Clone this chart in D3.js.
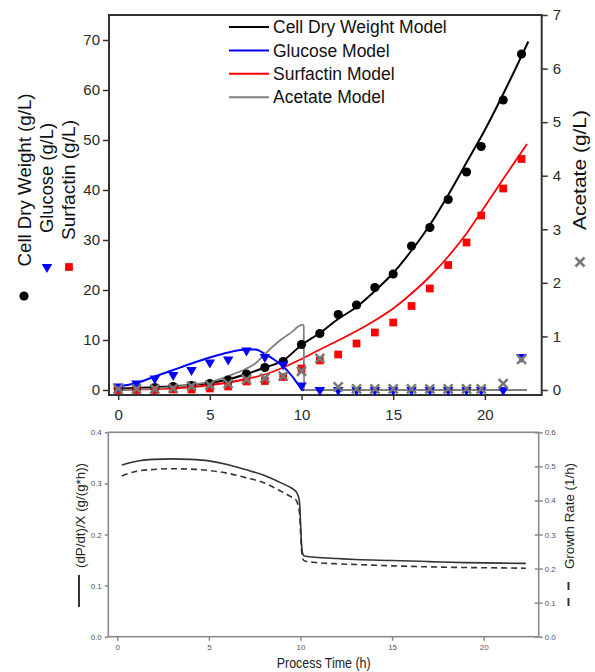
<!DOCTYPE html>
<html>
<head>
<meta charset="utf-8">
<script src="https://cdn.jsdelivr.net/npm/d3@7"></script>
<style>
  body { margin: 0; background: #fff; }
  svg { display: block; font-family: "Liberation Sans", Arial, sans-serif; }
</style>
</head>
<body>
<svg id="chart" width="595" height="672"></svg>
<script>
// ---- Measured fermentation data (h, g/L) ----
const hours     = [0,1,2,3,4,5,6,7,8,9,10,11,12,13,14,15,16,17,18,19,19.8,21,22];
const cdw       = [0.3,0.4,0.5,0.7,0.9,1.3,2.0,3.2,4.5,5.7,9.1,11.3,15.1,17.0,20.5,23.2,28.8,32.5,38.1,43.6,48.7,58.0,67.2];
const glucose   = [0.7,1.3,2.3,3.0,4.0,5.5,6.1,7.9,6.6,5.1,0.9,0,0,0,0,0,0,0,0,0,0,0,6.6];
const surfactin = [0,0,0,0.1,0.1,0.3,0.7,1.7,1.8,2.6,4.3,5.9,7.1,9.3,11.5,13.5,16.8,20.3,25.0,29.5,34.9,40.3,46.2];
const acetate   = [0.02,0.02,0.02,0.03,0.07,0.09,0.12,0.2,0.22,0.26,0.35,0.59,0.06,0.02,0.02,0.02,0.02,0.02,0.02,0.02,0.02,0.12,0.57];

// ---- Model predictions ----
const cdwModelT = [0,1,2,3,4,5,6,7,8,9,10,11,12,13,14,15,16,17,18,19,20,21,22,22.37];
const cdwModel  = [0.3,0.4,0.55,0.75,1.0,1.4,2.1,3.2,4.5,5.9,9.0,11.4,14.2,16.6,19.8,23.4,27.9,33.0,39.0,45.5,52.0,59.2,66.8,69.7];
const glucoseModelT = [0,1,2,3,4,5,6,7,7.5,8,8.5,9,9.5,9.8,10.05,10.15,22.3];
const glucoseModel  = [0.7,1.4,2.7,4.0,5.3,6.5,7.5,8.1,8.1,7.2,6.1,4.7,2.7,1.2,0.1,0,0];
const surfactinModelT = [0,1,2,3,4,5,6,7,8,9,10,11,12,13,14,15,16,17,18,19,20,21,22,22.3];
const surfactinModel  = [0,0.1,0.2,0.35,0.6,1.0,1.5,2.2,3.1,4.5,6.2,8.1,9.9,11.8,13.9,16.3,19.3,22.7,26.7,31.3,36.7,42.2,47.6,49.2];
const acetateModelT = [0,1,2,3,4,5,6,7,7.5,8,8.5,9,9.5,9.8,10.05,10.12,10.14,22.3];
const acetateModel  = [0,0.01,0.03,0.06,0.1,0.15,0.26,0.4,0.5,0.67,0.83,0.97,1.09,1.18,1.22,1.2,0,0];

// ---- Specific rates ----
const rateT = [0.25,1,2,3,4,5,6,7,8,9,9.5,9.75,9.85,9.95,10.0,10.05,10.1,10.2,11,12,13,15,17,19,21,22.3];
const productivity = [0.336,0.343,0.347,0.348,0.347,0.344,0.337,0.327,0.316,0.300,0.291,0.284,0.278,0.262,0.225,0.185,0.165,0.158,0.155,0.153,0.151,0.149,0.147,0.145,0.144,0.1435];
const growthRate   = [0.472,0.485,0.491,0.493,0.492,0.488,0.480,0.467,0.452,0.425,0.41,0.401,0.39,0.36,0.31,0.26,0.232,0.223,0.217,0.214,0.212,0.208,0.205,0.203,0.202,0.201];

// ---- Tick values and labels ----
const xTicks = [0,5,10,15,20];
const leftTicks = [0,10,20,30,40,50,60,70];
const rightTicks = [0,1,2,3,4,5,6,7];
const rateTicks = [0,0.1,0.2,0.3,0.4];
const growthTicks = [0,0.1,0.2,0.3,0.4,0.5,0.6];
const legendLabels = ["Cell Dry Weight Model","Glucose Model","Surfactin Model","Acetate Model"];

const BLACK = "#000", BLUE = "#0000ff", RED = "#ff0000", GRAY = "#808080";
const legendColors = [BLACK, BLUE, RED, GRAY];

const svg = d3.select("#chart");

// ================= Upper panel: concentrations =================
const x  = d3.scaleLinear().domain([-0.5, 23.1]).range([109, 541.7]);
const yL = d3.scaleLinear().domain([-1, 75]).range([395, 15]);
const yR = d3.scaleLinear().domain([-0.0935, 7]).range([395, 15]);

function styleAxis(g, size, color) {
  g.select(".domain").remove();
  g.selectAll(".tick line").attr("stroke", color).attr("stroke-width", 1.5);
  g.selectAll(".tick text").attr("fill", color === "#333" ? "#2a2a2a" : "#555").style("font-size", size + "px");
}

svg.append("g").attr("transform", "translate(0,395)")
  .call(d3.axisBottom(x).tickValues(xTicks).tickSize(5).tickPadding(9))
  .call(g => styleAxis(g, 15, "#333"));
svg.append("g").attr("transform", "translate(109,0)")
  .call(d3.axisLeft(yL).tickValues(leftTicks).tickSize(6).tickPadding(3))
  .call(g => styleAxis(g, 15, "#333"));
svg.append("g").attr("transform", "translate(541.7,0)")
  .call(d3.axisRight(yR).tickValues(rightTicks).tickSize(6).tickPadding(5))
  .call(g => styleAxis(g, 15, "#333"));

svg.append("rect").attr("x", 109).attr("y", 15).attr("width", 541.7 - 109).attr("height", 380)
  .attr("fill", "none").attr("stroke", "#333").attr("stroke-width", 2);

const lineL = d3.line().x(d => x(d[0])).y(d => yL(d[1])).curve(d3.curveMonotoneX);
const lineR = d3.line().x(d => x(d[0])).y(d => yR(d[1])).curve(d3.curveMonotoneX);

svg.append("path").attr("d", lineL(d3.zip(cdwModelT, cdwModel)))
  .attr("fill", "none").attr("stroke", BLACK).attr("stroke-width", 2);
svg.append("path").attr("d", lineL(d3.zip(glucoseModelT, glucoseModel)))
  .attr("fill", "none").attr("stroke", BLUE).attr("stroke-width", 2);
svg.append("path").attr("d", lineL(d3.zip(surfactinModelT, surfactinModel)))
  .attr("fill", "none").attr("stroke", RED).attr("stroke-width", 1.8);
svg.append("path").attr("d", lineR(d3.zip(acetateModelT, acetateModel)))
  .attr("fill", "none").attr("stroke", GRAY).attr("stroke-width", 1.8);

// markers
const sq = d3.symbol().type(d3.symbolSquare).size(60)();
const tri = d3.symbol().type(d3.symbolTriangle).size(48)();
const cross = "M-4.5,-4.5L4.5,4.5M-4.5,4.5L4.5,-4.5";

svg.append("g").selectAll("circle").data(d3.zip(hours, cdw)).join("circle")
  .attr("cx", d => x(d[0])).attr("cy", d => yL(d[1])).attr("r", 4.6).attr("fill", BLACK);
svg.append("g").selectAll("path").data(d3.zip(hours, surfactin)).join("path")
  .attr("d", sq).attr("transform", d => `translate(${x(d[0])},${yL(d[1])})`).attr("fill", RED);
svg.append("g").selectAll("path").data(d3.zip(hours, glucose)).join("path")
  .attr("d", tri).attr("transform", d => `translate(${x(d[0])},${yL(d[1])}) rotate(180)`).attr("fill", BLUE);
svg.append("g").selectAll("path").data(d3.zip(hours, acetate)).join("path")
  .attr("d", cross).attr("transform", d => `translate(${x(d[0])},${yR(d[1])})`)
  .attr("fill", "none").attr("stroke", "#777").attr("stroke-width", 2.5);

// legend
const legend = svg.append("g").selectAll("g").data(legendLabels).join("g")
  .attr("transform", (d, i) => `translate(229,${27 + i * 23.4})`);
legend.append("line").attr("x1", 0).attr("x2", 40).attr("y1", 0).attr("y2", 0)
  .attr("stroke", (d, i) => legendColors[i]).attr("stroke-width", 2);
legend.append("text").attr("x", 44).attr("y", 6.2).text(d => d)
  .style("font-size", "17.5px").attr("fill", "#111");

// axis titles
function vText(xb, yc, txt, size, len) {
  svg.append("text").attr("transform", `translate(${xb},${yc}) rotate(-90)`)
    .attr("text-anchor", "middle").style("font-size", size + "px").attr("fill", "#111")
    .attr("textLength", len).attr("lengthAdjust", "spacingAndGlyphs").text(txt);
}
vText(31, 180, "Cell Dry Weight (g/L)", 18.5, 173);
vText(53, 178, "Glucose (g/L)", 18.5, 110);
vText(75, 180, "Surfactin (g/L)", 18.5, 120);
vText(586, 170, "Acetate (g/L)", 18.5, 120);

svg.append("circle").attr("cx", 24).attr("cy", 296).attr("r", 4.6).attr("fill", BLACK);
svg.append("path").attr("d", tri).attr("transform", "translate(47,267) rotate(180)").attr("fill", BLUE);
svg.append("path").attr("d", sq).attr("transform", "translate(69,267)").attr("fill", RED);
svg.append("path").attr("d", cross).attr("transform", "translate(580,262)")
  .attr("fill", "none").attr("stroke", "#777").attr("stroke-width", 2.5);

// ================= Lower panel: specific rates =================
const xB  = d3.scaleLinear().domain([-0.49, 23.0]).range([108.3, 538.7]);
const yB  = d3.scaleLinear().domain([0, 0.4]).range([636.7, 432.3]);
const yB2 = d3.scaleLinear().domain([0, 0.6]).range([636.7, 432.3]);
const AX = "#8a8a8a";

svg.append("g").attr("transform", "translate(0,636.7)")
  .call(d3.axisBottom(xB).tickValues(xTicks).tickSize(4).tickPadding(3.5))
  .call(g => styleAxis(g, 8, AX));
svg.append("g").attr("transform", "translate(108.3,0)")
  .call(d3.axisLeft(yB).tickValues(rateTicks).tickFormat(d3.format(".1f")).tickSize(3.5).tickPadding(3))
  .call(g => styleAxis(g, 8, AX));
svg.append("g").attr("transform", "translate(538.7,0)")
  .call(d3.axisRight(yB2).tickValues(growthTicks).tickFormat(d3.format(".1f")).tickSize(4).tickPadding(2))
  .call(g => { styleAxis(g, 8, AX); g.selectAll(".tick line").attr("x1", -4); });

svg.append("rect").attr("x", 108.3).attr("y", 432.3).attr("width", 538.7 - 108.3).attr("height", 636.7 - 432.3)
  .attr("fill", "none").attr("stroke", AX).attr("stroke-width", 1.6);

const lineP = d3.line().x(d => xB(d[0])).y(d => yB(d[1])).curve(d3.curveMonotoneX);
const lineG = d3.line().x(d => xB(d[0])).y(d => yB2(d[1])).curve(d3.curveMonotoneX);
svg.append("path").attr("d", lineP(d3.zip(rateT, productivity)))
  .attr("fill", "none").attr("stroke", "#333").attr("stroke-width", 1.6);
svg.append("path").attr("d", lineG(d3.zip(rateT, growthRate)))
  .attr("fill", "none").attr("stroke", "#333").attr("stroke-width", 1.6).attr("stroke-dasharray", "6,4");

function vSmall(xb, yc, txt, len) {
  svg.append("text").attr("transform", `translate(${xb},${yc}) rotate(-90)`)
    .attr("text-anchor", "middle").style("font-size", "12px").attr("fill", "#222")
    .attr("textLength", len).attr("lengthAdjust", "spacingAndGlyphs").text(txt);
}
vSmall(85, 515.5, "(dP/dt)/X (g/(g*h))", 105);
vSmall(574, 516, "Growth Rate (1/h)", 106);
svg.append("line").attr("x1", 79).attr("x2", 79).attr("y1", 575).attr("y2", 607)
  .attr("stroke", "#333").attr("stroke-width", 2);
svg.append("line").attr("x1", 568.5).attr("x2", 568.5).attr("y1", 582).attr("y2", 606)
  .attr("stroke", "#333").attr("stroke-width", 2).attr("stroke-dasharray", "8,8");

svg.append("text").attr("x", 323.7).attr("y", 668).attr("text-anchor", "middle")
  .style("font-size", "14px").attr("fill", "#222")
  .attr("textLength", 94).attr("lengthAdjust", "spacingAndGlyphs").text("Process Time (h)");
</script>
</body>
</html>
